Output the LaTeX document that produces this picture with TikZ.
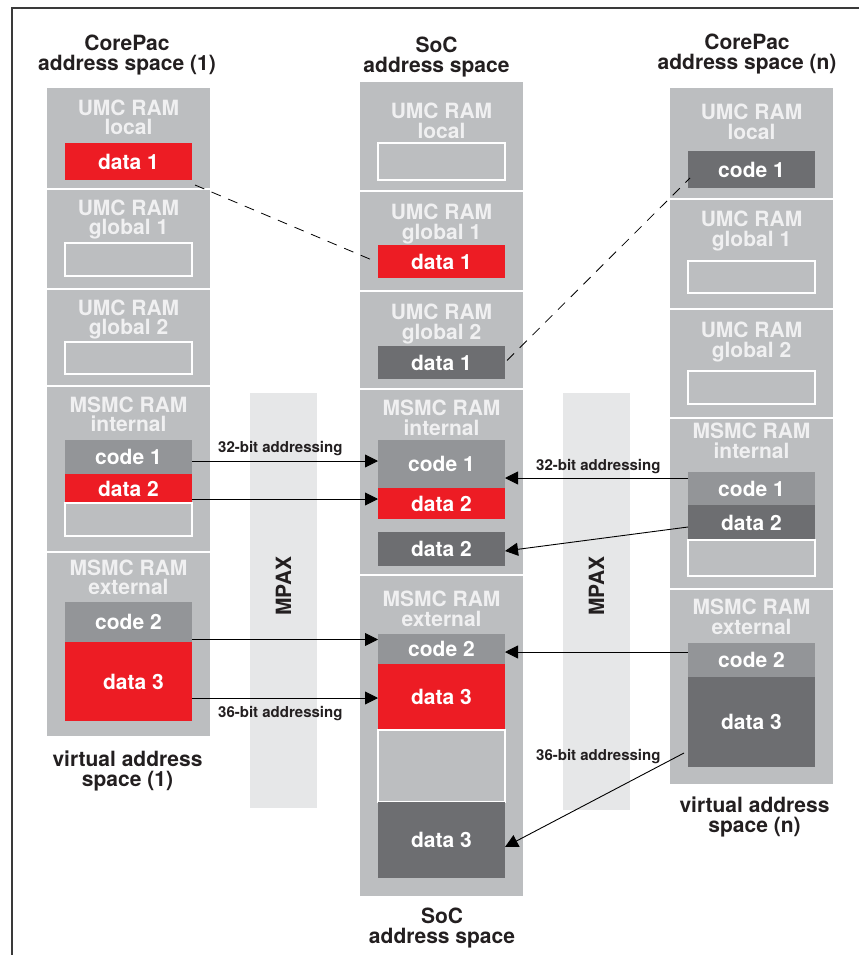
\documentclass[tikz,border=0pt]{standalone}
\usepackage{fontspec}
\setmainfont{TeX Gyre Heros}
\usetikzlibrary{arrows.meta}
\definecolor{colgray}{RGB}{188,190,192}
\definecolor{hdrtxt}{RGB}{240,240,241}
\definecolor{redc}{RGB}{237,28,36}
\definecolor{midgray}{RGB}{147,149,152}
\definecolor{darkgray}{RGB}{109,110,113}
\definecolor{mpaxc}{RGB}{230,231,232}
\definecolor{ttlc}{RGB}{35,31,32}
\definecolor{framec}{RGB}{58,58,58}
\newcommand\mylbl{\fontsize{21}{19.5}\selectfont\bfseries}
\newcommand\myaddr{\fontsize{15}{15}\selectfont\bfseries}
\begin{document}
\begin{tikzpicture}[x=1pt,y=-1pt,
  sect/.style={fill=colgray, draw=white, line width=1.5pt, inner sep=0pt, outer sep=0pt, anchor=north west, minimum width=165pt},
  blk/.style={inner sep=0pt, outer sep=0pt, anchor=north west, minimum width=127pt, text=white, font=\mylbl},
  redb/.style={blk, fill=redc},
  midb/.style={blk, fill=midgray},
  darkb/.style={blk, fill=darkgray},
  emptyb/.style={blk, fill=colgray, draw=white, line width=1.5pt},
  hdr/.style={anchor=north, align=center, inner sep=0pt, text=hdrtxt, font=\mylbl},
  ttl/.style={anchor=north, align=center, inner sep=0pt, text=ttlc, font=\mylbl},
  addr/.style={anchor=base west, inner sep=0pt, font=\myaddr, text=ttlc},
  arr/.style={draw=black, line width=0.9pt, -{Triangle[length=13pt,width=13pt]}},
  dashln/.style={draw=black, line width=0.8pt, dash pattern=on 10pt off 8pt},
  mpaxbar/.style={fill=mpaxc, inner sep=0pt, outer sep=0pt, anchor=north west, minimum width=67pt},
  mpaxtxt/.style={rotate=90, inner sep=0pt, font=\mylbl, text=ttlc}]
\useasboundingbox (0,0) rectangle (859,955);
\draw[framec, line width=1.4pt] (12,955) -- (12,8) -- (859,8);

% MPAX bars
\node[mpaxbar, minimum height=415pt] (mpL) at (250,393) {};
\node[mpaxbar, minimum height=417pt] (mpR) at (563,393) {};
\node[mpaxtxt] (mpLt) at (mpL.center |- 0,586) {MPAX};
\node[mpaxtxt] (mpRt) at (mpR.center |- 0,586) {MPAX};

% titles
\node[ttl] (tL) at (127,35) {CorePac\\address space (1)};
\node[ttl] (tS) at (436.5,37) {SoC\\address space};
\node[ttl] (tR) at (747,34) {CorePac\\address space (n)};
\node[ttl] (bL) at (127.5,751) {virtual address\\space (1)};
\node[ttl] (bR) at (754.5,797) {virtual address\\space (n)};
\node[ttl] (bS) at (442,908) {SoC\\address space};

% left column sections
\node[sect, minimum height=102pt] (L1) at (46,87) {};
\node[sect, minimum height=100pt] (L2) at (46,189) {};
\node[sect, minimum height=97pt] (L3) at (46,289) {};
\node[sect, minimum height=166pt] (L4) at (46,386) {};
\node[sect, minimum height=185pt] (L5) at (46,552) {};
% SoC column sections
\node[sect, minimum height=110pt] (S1) at (359,81) {};
\node[sect, minimum height=100pt] (S2) at (359,191) {};
\node[sect, minimum height=98pt] (S3) at (359,291) {};
\node[sect, minimum height=186pt] (S4) at (359,389) {};
\node[sect, minimum height=322pt] (S5) at (359,575) {};
% right column sections
\node[sect, minimum height=112pt] (R1) at (669,87) {};
\node[sect, minimum height=110pt] (R2) at (669,199) {};
\node[sect, minimum height=109pt] (R3) at (669,309) {};
\node[sect, minimum height=171pt] (R4) at (669,418) {};
\node[sect, minimum height=196pt] (R5) at (669,589) {};

% headers
\node[hdr] (hL1) at (128.5,99.5) {UMC RAM\\local};
\node[hdr] (hL2) at (128.5,199.5) {UMC RAM\\global 1};
\node[hdr] (hL3) at (128.5,299.5) {UMC RAM\\global 2};
\node[hdr] (hL4) at (128.5,396.5) {MSMC RAM\\internal};
\node[hdr] (hL5) at (128.5,559.5) {MSMC RAM\\external};
\node[hdr] (hS1) at (441.5,103) {UMC RAM\\local};
\node[hdr] (hS2) at (441.5,204) {UMC RAM\\global 1};
\node[hdr] (hS3) at (441.5,304) {UMC RAM\\global 2};
\node[hdr] (hS4) at (441.5,400) {MSMC RAM\\internal};
\node[hdr] (hS5) at (441.5,591) {MSMC RAM\\external};
\node[hdr] (hR1) at (751.5,104) {UMC RAM\\local};
\node[hdr] (hR2) at (751.5,211) {UMC RAM\\global 1};
\node[hdr] (hR3) at (751.5,322) {UMC RAM\\global 2};
\node[hdr] (hR4) at (751.5,423) {MSMC RAM\\internal};
\node[hdr] (hR5) at (751.5,599) {MSMC RAM\\external};

% left inner blocks
\node[redb, minimum height=37pt] (Ld1) at (65,143) {data 1};
\node[emptyb, minimum height=33pt] (Le1) at (65,243) {};
\node[emptyb, minimum height=32pt] (Le2) at (65,342) {};
\node[midb, minimum height=34pt] (Lc1) at (65,440) {code 1};
\node[redb, minimum height=29pt] (Ld2) at (65,474) {data 2};
\node[emptyb, minimum height=33pt] (Le3) at (65,503) {};
\node[midb, minimum height=40pt] (Lc2) at (65,602) {code 2};
\node[redb, minimum height=79pt] (Ld3) at (65,642) {\hspace*{10pt}\raisebox{-3pt}{data 3}};

% SoC inner blocks
\node[emptyb, minimum height=37pt] (Se1) at (378,143) {};
\node[redb, minimum height=33pt] (Sd1) at (378,245) {data 1};
\node[darkb, minimum height=33pt] (Sg1) at (378,346) {data 1};
\node[midb, minimum height=48pt] (Sc1) at (378,440) {code 1};
\node[redb, minimum height=31pt] (Sd2) at (378,488) {data 2};
\node[darkb, minimum height=34pt] (Sg2) at (378,532) {data 2};
\node[midb, minimum height=30pt] (Sc2) at (378,634) {code 2};
\node[redb, minimum height=66pt] (Sd3) at (378,664) {data 3};
\node[emptyb, minimum height=72pt] (Se2) at (378,730) {};
\node[darkb, minimum height=76pt] (Sg3) at (378,802) {data 3};

% right inner blocks
\node[darkb, minimum height=37pt] (Rc1) at (688,151) {code 1};
\node[emptyb, minimum height=32pt] (Re1) at (688,261) {};
\node[emptyb, minimum height=33pt] (Re2) at (688,371) {};
\node[midb, minimum height=33pt] (Rc2) at (688,472) {code 1};
\node[darkb, minimum height=35pt] (Rd2) at (688,505) {data 2};
\node[emptyb, minimum height=36pt] (Re3) at (688,540) {};
\node[midb, minimum height=34pt] (Rcc2) at (688,643) {code 2};
\node[darkb, minimum height=90pt] (Rd3) at (688,677) {data 3};

% addressing labels
\node[addr] (a32L) at (218,452) {32-bit addressing};
\node[addr] (a36L) at (218,717) {36-bit addressing};
\node[addr] (a32R) at (536,470) {32-bit addressing};
\node[addr] (a36R) at (536,760) {36-bit addressing};

% arrows from left
\coordinate (p1) at ([yshift=-4pt]Lc1.east);
\draw[arr] (p1) -- (p1 -| Sc1.west);
\coordinate (p2) at ([yshift=-10.5pt]Ld2.east);
\draw[arr] (p2) -- (p2 -| Sd2.west);
\coordinate (p3) at ([yshift=-17.5pt]Lc2.east);
\draw[arr] (p3) -- (p3 -| Sc2.west);
\coordinate (p4) at ([yshift=-16.5pt]Ld3.east);
\draw[arr] (p4) -- (p4 -| Sd3.west);
% arrows from right
\coordinate (q1) at ([yshift=10.5pt]Rc2.west);
\draw[arr] (q1) -- (q1 -| Sc1.east);
\draw[arr] ([yshift=-4.5pt]Rd2.west) -- ([yshift=-2pt]Sg2.east);
\coordinate (q3) at ([yshift=8pt]Rcc2.west);
\draw[arr] (q3) -- (q3 -| Sc2.east);
\draw[arr] ([shift={(-4pt,-31pt)}]Rd3.west) -- ([yshift=-7pt]Sg3.east);

% dashed links
\draw[dashln] ([shift={(3pt,-5pt)}]Ld1.south east) -- ([xshift=-6pt,yshift=1.5pt]Sd1.west);
\draw[dashln] ([xshift=2pt,yshift=2pt]Sg1.east) -- ([shift={(2pt,10pt)}]Rc1.south west);
\end{tikzpicture}
\end{document}
